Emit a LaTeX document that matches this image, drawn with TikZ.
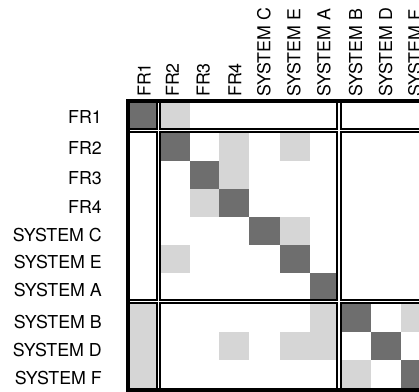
\documentclass[tikz,border=0pt]{standalone}
\usepackage{fontspec}
\setmainfont{TeX Gyre Heros}
\definecolor{cdark}{gray}{0.43}
\definecolor{clight}{gray}{0.84}
\begin{document}
\begin{tikzpicture}[x=1pt,y=-1pt,
  dk/.style={fill=cdark},
  lt/.style={fill=clight},
  lab/.style={inner sep=0pt, text height=12.8pt, text depth=0pt, font=\fontsize{17.8}{21}\selectfont},
  rowlab/.style={lab, anchor=east},
  collab/.style={lab, anchor=west, rotate=90},
  border/.style={line width=3.8pt, draw=black},
  dblout/.style={line width=5.6pt, draw=black},
  dblin/.style={line width=1.3pt, draw=white}]
\useasboundingbox (0,0) rectangle (419,391);
% cells
\fill[dk] (130,103) rectangle (156,128);
\fill[lt] (161,103) rectangle (190,128);
\fill[dk] (161,133) rectangle (190,161);
\fill[lt] (219,133) rectangle (249,161);
\fill[lt] (280,133) rectangle (310,161);
\fill[dk] (190,161) rectangle (219,189);
\fill[lt] (219,161) rectangle (249,189);
\fill[lt] (190,189) rectangle (219,217);
\fill[dk] (219,189) rectangle (249,217);
\fill[dk] (249,217) rectangle (280,245);
\fill[lt] (280,217) rectangle (310,245);
\fill[lt] (161,245) rectangle (190,272.5);
\fill[dk] (280,245) rectangle (310,272.5);
\fill[dk] (310,272.5) rectangle (336,299);
\fill[lt] (130,304) rectangle (156,332);
\fill[lt] (310,304) rectangle (336,332);
\fill[dk] (342,304) rectangle (371,332);
\fill[lt] (400.5,304) rectangle (430,332);
\fill[lt] (130,332) rectangle (156,360);
\fill[lt] (219,332) rectangle (249,360);
\fill[lt] (280,332) rectangle (336,360);
\fill[dk] (371,332) rectangle (400.5,360);
\fill[lt] (130,360) rectangle (156,388);
\fill[lt] (342,360) rectangle (371,388);
\fill[dk] (400.5,360) rectangle (430,388);
% grid lines
\draw[border] (126,101.3) -- (430,101.3);
\draw[border] (128,99.4) -- (128,400);
\draw[border] (126,389.8) -- (430,389.8);
\draw[dblout] (158.5,101) -- (158.5,390);
\draw[dblout] (339,101) -- (339,390);
\draw[dblout] (128,130.5) -- (430,130.5);
\draw[dblout] (128,301.5) -- (430,301.5);
\draw[dblin] (158.5,103.2) -- (158.5,387.9);
\draw[dblin] (339,103.2) -- (339,387.9);
\draw[dblin] (130,130.5) -- (430,130.5);
\draw[dblin] (130,301.5) -- (430,301.5);
% row labels
\node[rowlab] (rFRa) at (102,117.5) {FR1};
\node[rowlab] (rFRb) at (102,148.5) {FR2};
\node[rowlab] (rFRc) at (102,178.3) {FR3};
\node[rowlab] (rFRd) at (102,206.7) {FR4};
\node[rowlab] (rSC) at (102,235) {SYSTEM C};
\node[rowlab] (rSE) at (102,261.7) {SYSTEM E};
\node[rowlab] (rSA) at (102,290) {SYSTEM A};
\node[rowlab] (rSB) at (102,321.7) {SYSTEM B};
\node[rowlab] (rSD) at (102,350) {SYSTEM D};
\node[rowlab] (rSF) at (102,378.3) {SYSTEM F};
% column labels
\node[collab] (cFRa) at (144.2,97) {FR1};
\node[collab] (cFRb) at (172.5,97) {FR2};
\node[collab] (cFRc) at (203.3,97) {FR3};
\node[collab] (cFRd) at (235,97) {FR4};
\node[collab] (cSC) at (264,97) {SYSTEM C};
\node[collab] (cSE) at (294,97) {SYSTEM E};
\node[collab] (cSA) at (324,97) {SYSTEM A};
\node[collab] (cSB) at (355.8,97) {SYSTEM B};
\node[collab] (cSD) at (385.8,97) {SYSTEM D};
\node[collab] (cSF) at (415,97) {SYSTEM F};
\end{tikzpicture}
\end{document}
